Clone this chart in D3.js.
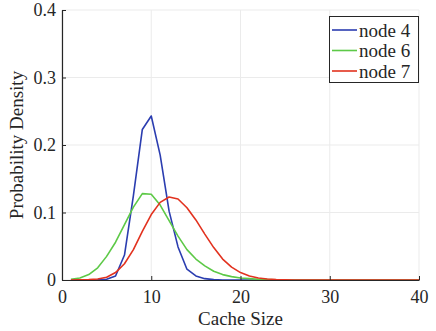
<!DOCTYPE html>
<html><head><meta charset="utf-8">
<script src="https://cdn.jsdelivr.net/npm/d3@7"></script>
<style>body{margin:0;background:#fff;} svg{display:block;}</style>
</head><body>
<svg id="c" width="436" height="331" font-family="Times New Roman"></svg>
<script>
const xValues = d3.range(1, 41);
const node4 = [0,0,0,0.0002,0.001,0.006,0.037,0.125,0.223,0.243,0.185,0.102,0.049,0.016,0.006,0.002,0.0005,0.0001,0,0,0,0,0,0,0,0,0,0,0,0,0,0,0,0,0,0,0,0,0,0];
const node6 = [0.001,0.003,0.008,0.018,0.035,0.056,0.082,0.108,0.128,0.127,0.111,0.088,0.065,0.045,0.031,0.021,0.013,0.008,0.005,0.003,0.002,0.001,0.0005,0.0002,0.0001,0,0,0,0,0,0,0,0,0,0,0,0,0,0,0];
const node7 = [0,0.0002,0.0005,0.0015,0.004,0.011,0.024,0.045,0.072,0.097,0.115,0.123,0.120,0.107,0.089,0.068,0.048,0.031,0.019,0.011,0.006,0.003,0.0015,0.0007,0.0003,0.0001,0,0,0,0,0,0,0,0,0,0,0,0,0,0];
const seriesNames = ["node 4","node 6","node 7"];
const seriesColors = ["#2b3db0","#5dc947","#e2321f"];
const xTicks = [0,10,20,30,40];
const yTicks = [0,0.1,0.2,0.3,0.4];
const series = [node4, node6, node7];

const svg = d3.select("#c");
const L = 62, R = 419, T = 10, B = 280;
const x = d3.scaleLinear().domain([0,40]).range([L,R]);
const y = d3.scaleLinear().domain([0,0.4]).range([B,T]);

svg.append("g").selectAll("line").data(xTicks).join("line")
  .attr("x1",d=>x(d)).attr("x2",d=>x(d)).attr("y1",T).attr("y2",B)
  .attr("stroke","#ebebeb").attr("stroke-width",1);
svg.append("g").selectAll("line").data(yTicks).join("line")
  .attr("y1",d=>y(d)).attr("y2",d=>y(d)).attr("x1",L).attr("x2",R)
  .attr("stroke","#ebebeb").attr("stroke-width",1);

const line = d3.line().x((d,i)=>x(xValues[i])).y(d=>y(d));
series.forEach((s,i)=>{
  svg.append("path").datum(s).attr("d",line).attr("fill","none")
    .attr("stroke",seriesColors[i]).attr("stroke-width",1.6).attr("stroke-linejoin","round");
});

const xa = svg.append("g").attr("transform",`translate(0,${B})`)
  .call(d3.axisBottom(x).tickValues(xTicks).tickSizeInner(-4).tickSizeOuter(0).tickPadding(10).tickFormat(d3.format("d")));
const ya = svg.append("g").attr("transform",`translate(${L},0)`)
  .call(d3.axisLeft(y).tickValues(yTicks).tickSizeInner(-4).tickSizeOuter(0).tickPadding(6).tickFormat(d=>d===0?"0":d3.format(".1f")(d)));
[xa,ya].forEach(a=>{
  a.attr("font-family","Times New Roman").attr("font-size",18);
  a.select(".domain").attr("stroke","#262626").attr("stroke-width",1.2);
  a.selectAll(".tick line").attr("stroke","#262626").attr("stroke-width",1);
  a.selectAll("text").attr("fill","#262626");
});

svg.append("text").attr("x",(L+R)/2).attr("y",325).attr("text-anchor","middle")
  .attr("font-size",19).attr("fill","#262626").text("Cache Size");
svg.append("text").attr("transform",`translate(23,${(T+B)/2}) rotate(-90)`).attr("text-anchor","middle")
  .attr("font-size",19).attr("fill","#262626").text("Probability Density");

const lg = svg.append("g");
lg.append("rect").attr("x",329.5).attr("y",16.5).attr("width",89).attr("height",66)
  .attr("fill","#fff").attr("stroke","#262626").attr("stroke-width",1);
seriesNames.forEach((n,i)=>{
  const cy = 30 + i*20.5;
  lg.append("line").attr("x1",332).attr("x2",357).attr("y1",cy).attr("y2",cy)
    .attr("stroke",seriesColors[i]).attr("stroke-width",1.6);
  lg.append("text").attr("x",359).attr("y",cy).attr("dy","0.35em")
    .attr("font-size",19).attr("fill","#262626").text(n);
});
</script>
</body></html>
